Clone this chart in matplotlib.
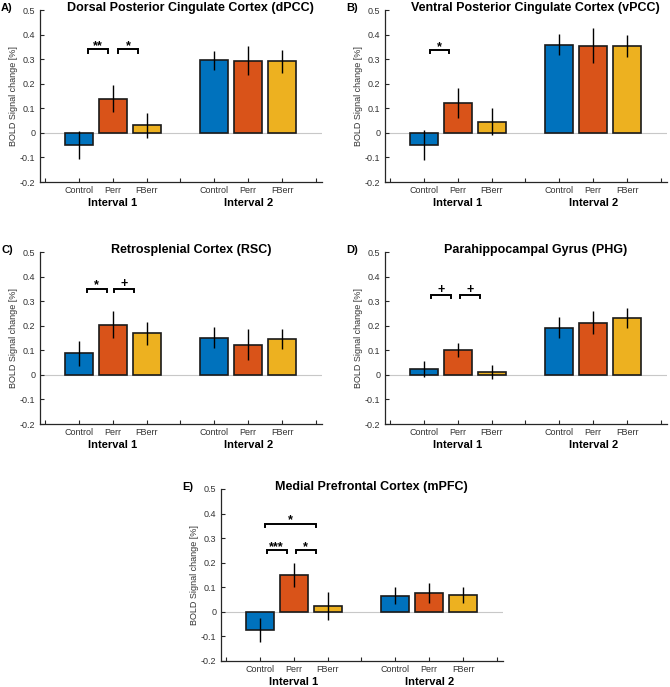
import numpy as np
import matplotlib.pyplot as plt
from matplotlib.transforms import blended_transform_factory

plt.rcParams['font.family'] = ['Liberation Sans', 'DejaVu Sans']

# ----- Data -----
groups = ["Control", "Perr", "FBerr"]
intervals = ["Interval 1", "Interval 2"]

dpcc_mean = [-0.050, 0.139, 0.031, 0.295, 0.294, 0.291]
dpcc_err = [0.056, 0.056, 0.051, 0.040, 0.060, 0.046]
vpcc_mean = [-0.049, 0.121, 0.045, 0.358, 0.355, 0.354]
vpcc_err = [0.062, 0.060, 0.055, 0.043, 0.071, 0.044]
rsc_mean = [0.087, 0.204, 0.169, 0.152, 0.122, 0.146]
rsc_err = [0.050, 0.054, 0.048, 0.041, 0.063, 0.042]
phg_mean = [0.024, 0.101, 0.013, 0.192, 0.212, 0.231]
phg_err = [0.031, 0.030, 0.028, 0.044, 0.047, 0.041]
mpfc_mean = [-0.074, 0.149, 0.023, 0.066, 0.078, 0.068]
mpfc_err = [0.050, 0.048, 0.057, 0.035, 0.041, 0.032]

# significance brackets: (x start, x end, height, label)
dpcc_sig = [(2.26, 2.86, 0.340, "**"), (3.15, 3.75, 0.340, "*")]
vpcc_sig = [(2.17, 2.75, 0.338, "*")]
rsc_sig = [(2.23, 2.82, 0.351, "*"), (3.05, 3.64, 0.351, "+")]
phg_sig = [(2.20, 2.79, 0.327, "+"), (3.08, 3.67, 0.327, "+")]
mpfc_sig = [(2.20, 2.79, 0.253, "***"), (3.06, 3.65, 0.253, "*"),
            (2.16, 3.65, 0.359, "*")]

# ----- Layout (pixels) -----
W, H = 670, 687
AX_W, AX_H = 282, 172
fig = plt.figure(figsize=(W / 100, H / 100), dpi=100)

positions = [2, 3, 4, 6, 7, 8]
colors = ["#0072BD", "#D95319", "#EDB120"] * 2
ink = "#262626"


def bracket(ax, x0, x1, y, label):
    d = 0.013
    ax.plot([x0, x0, x1, x1], [y - d, y, y, y - d], color="black", lw=1.4,
            solid_joinstyle="miter", zorder=4)
    off = 0.005 if "+" in label else 0.0
    ax.text((x0 + x1) / 2, y + off, label, ha="center", va="baseline",
            fontsize=9, fontweight="bold")


def panel(letter, title, mean, err, sig, left, top):
    ax = fig.add_axes([left / W, 1 - (top + AX_H) / H, AX_W / W, AX_H / H])
    ax.axhline(0, color="#c8c8c8", lw=0.8, zorder=1)
    ax.bar(positions, mean, width=0.82, color=colors, edgecolor="#1a1a1a",
           linewidth=1.2, zorder=2)
    ax.errorbar(positions, mean, yerr=err, fmt="none", ecolor="black",
                elinewidth=1.0, capsize=0, zorder=3)
    for s in sig:
        bracket(ax, *s)

    ax.set_xlim(0.85, 9.18)
    ax.set_ylim(-0.2, 0.5)
    yt = np.round(np.arange(-0.2, 0.51, 0.1), 1)
    ax.set_yticks(yt)
    ax.set_yticklabels(["0" if v == 0 else f"{v:g}" for v in yt])
    ax.set_xticks(range(1, 10))
    ax.set_xticklabels([""] + groups + [""] + groups + [""])
    for side in ["top", "right"]:
        ax.spines[side].set_visible(False)
    for side in ["left", "bottom"]:
        ax.spines[side].set_color(ink)
        ax.spines[side].set_linewidth(0.9)
    ax.tick_params(direction="in", length=3, width=0.8, labelsize=6.5,
                   color=ink, labelcolor="#333333")
    ax.tick_params(axis="x", pad=3)
    ax.set_ylabel("BOLD Signal change [%]", fontsize=6.5, color="#333333")
    ax.yaxis.set_label_coords(-22 / AX_W, 0.5)

    tr = blended_transform_factory(ax.transData, ax.transAxes)
    for xc, name in zip([3, 7], intervals):
        ax.text(xc, -21 / AX_H, name, transform=tr, ha="center", va="center",
                fontsize=8, fontweight="bold")
    ax.text(0.535, 1 - 1 / AX_H, title, transform=ax.transAxes, ha="center",
            va="baseline", fontsize=9, fontweight="bold")
    fig.text((left - 39) / W, 1 - (top + 1) / H, letter, ha="left",
             va="baseline", fontsize=8, fontweight="bold")
    return ax


panel("A)", "Dorsal Posterior Cingulate Cortex (dPCC)", dpcc_mean, dpcc_err,
      dpcc_sig, 40, 10)
panel("B)", "Ventral Posterior Cingulate Cortex (vPCC)", vpcc_mean, vpcc_err,
      vpcc_sig, 385, 10)
panel("C)", "Retrosplenial Cortex (RSC)", rsc_mean, rsc_err, rsc_sig, 40, 252)
panel("D)", "Parahippocampal Gyrus (PHG)", phg_mean, phg_err, phg_sig, 385, 252)
panel("E)", "Medial Prefrontal Cortex (mPFC)", mpfc_mean, mpfc_err, mpfc_sig,
      221, 489)

fig.savefig("out.png", dpi=100)
